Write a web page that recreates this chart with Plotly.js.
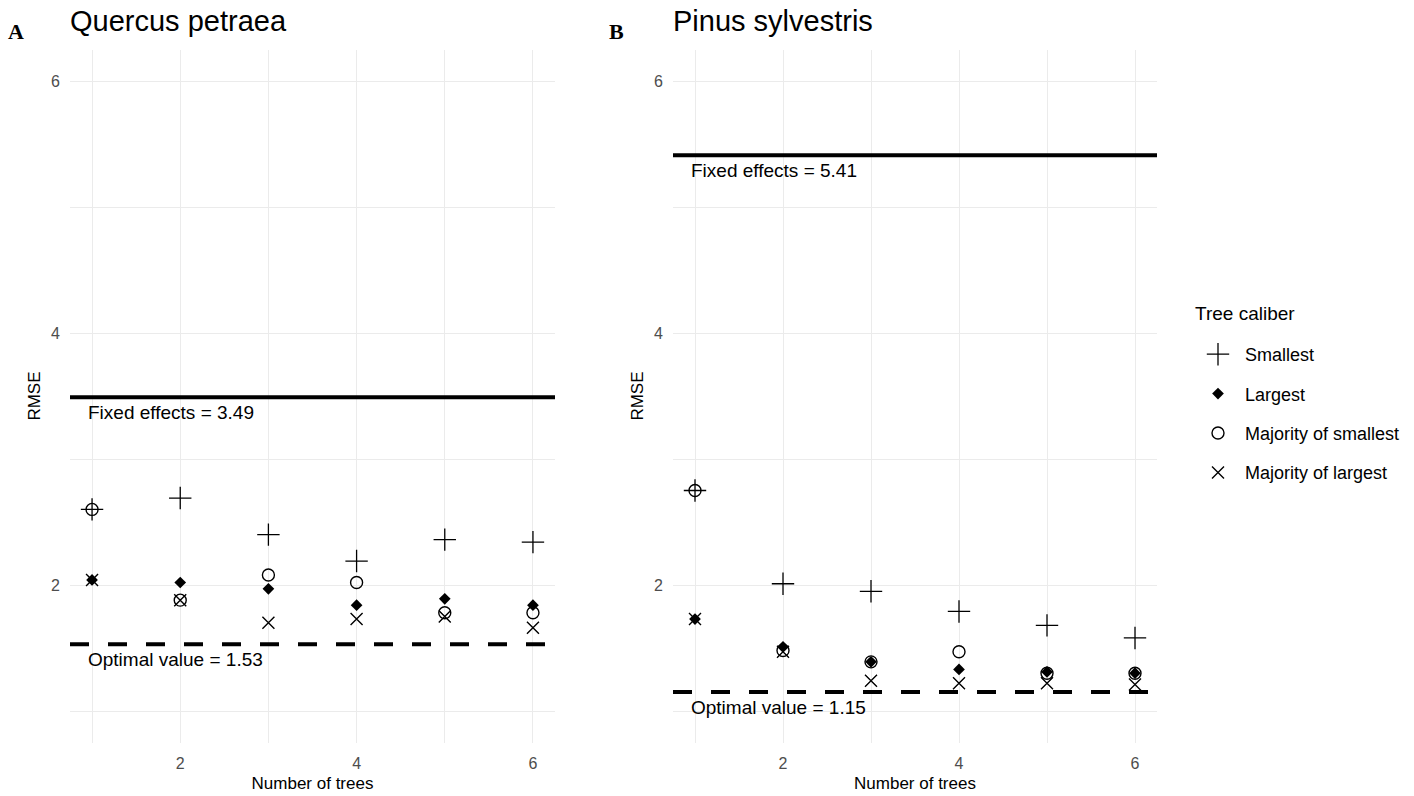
<!DOCTYPE html>
<html>
<head>
<meta charset="utf-8">
<script src="https://cdn.plot.ly/plotly-3.0.1.min.js"></script>
<style>html,body{margin:0;padding:0;background:#fff;}#chart{width:1414px;height:796px;}</style>
</head>
<body>
<div id="chart"></div>
<script>
// ---- data ----
const nTrees = [1, 2, 3, 4, 5, 6];
const seriesNames = ["Smallest", "Largest", "Majority of smallest", "Majority of largest"];

// Panel A: Quercus petraea
const quercusSmallest = [2.60, 2.69, 2.40, 2.19, 2.36, 2.34];
const quercusLargest = [2.04, 2.02, 1.97, 1.84, 1.89, 1.84];
const quercusMajSmallest = [2.60, 1.88, 2.08, 2.02, 1.78, 1.78];
const quercusMajLargest = [2.04, 1.88, 1.70, 1.73, 1.75, 1.66];
const quercusFixed = 3.49;
const quercusOptimal = 1.53;

// Panel B: Pinus sylvestris
const pinusSmallest = [2.75, 2.01, 1.95, 1.79, 1.68, 1.58];
const pinusLargest = [1.73, 1.51, 1.39, 1.33, 1.31, 1.30];
const pinusMajSmallest = [2.75, 1.48, 1.39, 1.47, 1.30, 1.30];
const pinusMajLargest = [1.73, 1.47, 1.24, 1.22, 1.22, 1.21];
const pinusFixed = 5.41;
const pinusOptimal = 1.15;

const panelTitles = ["Quercus petraea", "Pinus sylvestris"];
const panelLetters = ["A", "B"];
const legendTitle = "Tree caliber";

// ---- styles ----
const markerStyles = [
  {symbol: "cross-thin-open", size: 16, color: "#000", line: {width: 1.3, color: "#000"}},
  {symbol: "diamond", size: 9, color: "#000", line: {width: 0}},
  {symbol: "circle-open", size: 12, color: "#000", line: {width: 1.4, color: "#000"}},
  {symbol: "x-thin-open", size: 12, color: "#000", line: {width: 1.4, color: "#000"}}
];

const panels = [
  {vals: [quercusSmallest, quercusLargest, quercusMajSmallest, quercusMajLargest], fixed: quercusFixed, opt: quercusOptimal, xa: "x", ya: "y"},
  {vals: [pinusSmallest, pinusLargest, pinusMajSmallest, pinusMajLargest], fixed: pinusFixed, opt: pinusOptimal, xa: "x2", ya: "y2"}
];

const traces = [];
panels.forEach((p, pi) => {
  p.vals.forEach((v, si) => {
    traces.push({
      type: "scatter", mode: "markers",
      x: nTrees, y: v, name: seriesNames[si],
      xaxis: p.xa, yaxis: p.ya,
      marker: markerStyles[si],
      showlegend: pi === 0,
      legendgroup: "g" + si,
      hoverinfo: "x+y+name"
    });
  });
});

const FONT = "Liberation Sans, Arial, sans-serif";
const gridC = "#ebebeb";

function xAxis(domain, anchor) {
  return {
    domain: domain, anchor: anchor, range: [0.75, 6.25],
    tick0: 0, dtick: 2, showgrid: true, gridcolor: gridC, gridwidth: 1.3,
    minor: {dtick: 1, tick0: 0, showgrid: true, gridcolor: gridC, gridwidth: 1.1},
    zeroline: false, showline: false, ticks: "", ticklabelstandoff: 9,
    tickfont: {family: FONT, size: 16, color: "#4d4d4d"},
    title: {text: "Number of trees", font: {family: FONT, size: 17, color: "#000"}, standoff: 6}
  };
}
function yAxis(anchor) {
  return {
    domain: [0.0672, 0.9378], anchor: anchor, range: [0.75, 6.25],
    tick0: 0, dtick: 2, showgrid: true, gridcolor: gridC, gridwidth: 1.3,
    minor: {dtick: 1, tick0: 0, showgrid: true, gridcolor: gridC, gridwidth: 1.1},
    zeroline: false, showline: false, ticks: "", ticklabelstandoff: 9,
    tickfont: {family: FONT, size: 16, color: "#4d4d4d"},
    title: {text: "RMSE", font: {family: FONT, size: 17, color: "#000"}, standoff: 6}
  };
}

const shapes = [];
const annotations = [];
const xDomains = [[70/1414, 555/1414], [673/1414, 1157/1414]];
panels.forEach((p, pi) => {
  shapes.push({type: "line", xref: p.xa, yref: p.ya, x0: 0.75, x1: 6.25, y0: p.fixed, y1: p.fixed,
    line: {color: "#000", width: 4}});
  shapes.push({type: "line", xref: p.xa, yref: p.ya, x0: 0.75, x1: 6.25, y0: p.opt, y1: p.opt,
    line: {color: "#000", width: 4, dash: "19px,19px"}});
  annotations.push({xref: p.xa, yref: p.ya, x: 0.93, y: p.fixed, xanchor: "left", yanchor: "top", yshift: -3,
    text: "Fixed effects = " + p.fixed.toFixed(2), showarrow: false, font: {family: FONT, size: 19, color: "#000"}});
  annotations.push({xref: p.xa, yref: p.ya, x: 0.93, y: p.opt, xanchor: "left", yanchor: "top", yshift: -3,
    text: "Optimal value = " + p.opt.toFixed(2), showarrow: false, font: {family: FONT, size: 19, color: "#000"}});
  annotations.push({xref: "paper", yref: "paper", x: xDomains[pi][0] - 2/1414, y: 1 - 21/796, xanchor: "left", yanchor: "middle",
    text: panelTitles[pi], showarrow: false, font: {family: FONT, size: 29, color: "#000"}});
});
annotations.push({xref: "paper", yref: "paper", x: 6/1414, y: 1 - 32/796, xanchor: "left", yanchor: "middle",
  text: "<b>" + panelLetters[0] + "</b>", showarrow: false, font: {family: "Liberation Serif, Times New Roman, serif", size: 22, color: "#000"}});
annotations.push({xref: "paper", yref: "paper", x: 607/1414, y: 1 - 32/796, xanchor: "left", yanchor: "middle",
  text: "<b>" + panelLetters[1] + "</b>", showarrow: false, font: {family: "Liberation Serif, Times New Roman, serif", size: 22, color: "#000"}});
annotations.push({xref: "paper", yref: "paper", x: 1193/1414, y: 1 - 313/796, xanchor: "left", yanchor: "middle",
  text: legendTitle, showarrow: false, font: {family: FONT, size: 19, color: "#000"}});

const layout = {
  width: 1414, height: 796,
  margin: {l: 0, r: 0, t: 0, b: 0},
  paper_bgcolor: "#fff", plot_bgcolor: "#fff",
  font: {family: FONT},
  xaxis: xAxis(xDomains[0], "y"),
  yaxis: yAxis("x"),
  xaxis2: xAxis(xDomains[1], "y2"),
  yaxis2: yAxis("x2"),
  shapes: shapes,
  annotations: annotations,
  showlegend: true,
  legend: {
    x: 1191/1414, y: 1 - 336/796, xanchor: "left", yanchor: "top",
    font: {family: FONT, size: 18, color: "#000"},
    itemwidth: 44,
    tracegroupgap: 13, bgcolor: "rgba(0,0,0,0)"
  }
};

Plotly.newPlot("chart", traces, layout, {displayModeBar: false, staticPlot: false});
</script>
</body>
</html>
